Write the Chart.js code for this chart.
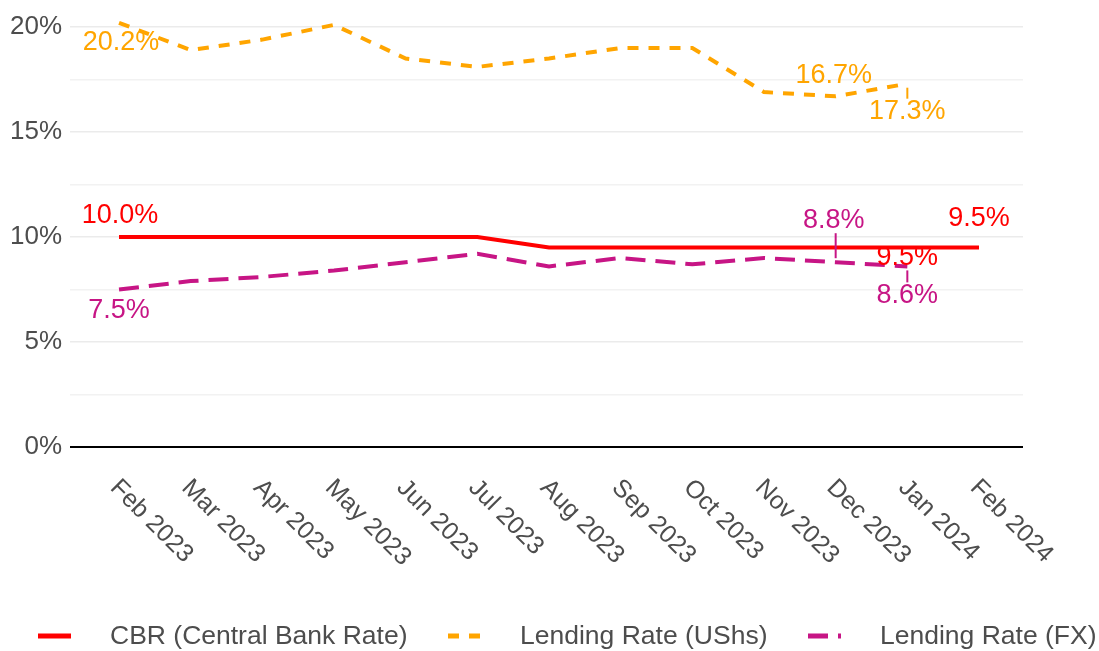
<!DOCTYPE html>
<html>
<head>
<meta charset="utf-8">
<script src="https://cdn.jsdelivr.net/npm/chart.js@4.4.1/dist/chart.umd.min.js"></script>
<style>
  html, body { margin: 0; padding: 0; background: #fff; }
</style>
</head>
<body>
<canvas id="rateChart" width="1099" height="651"></canvas>
<script>
// Months on the x axis
const months = ['Feb 2023', 'Mar 2023', 'Apr 2023', 'May 2023', 'Jun 2023', 'Jul 2023',
  'Aug 2023', 'Sep 2023', 'Oct 2023', 'Nov 2023', 'Dec 2023', 'Jan 2024', 'Feb 2024'];

// Series values (percent)
const cbr = [10.0, 10.0, 10.0, 10.0, 10.0, 10.0, 9.5, 9.5, 9.5, 9.5, 9.5, 9.5, 9.5];
const lendingUshs = [20.2, 18.9, 19.4, 20.1, 18.5, 18.1, 18.5, 19.0, 19.0, 16.9, 16.7, 17.3];
const lendingFx = [7.5, 7.9, 8.1, 8.4, 8.8, 9.2, 8.6, 9.0, 8.7, 9.0, 8.8, 8.6];

const seriesNames = ['CBR (Central Bank Rate)', 'Lending Rate (UShs)', 'Lending Rate (FX)'];
const yTicks = [0, 5, 10, 15, 20];

const FONT = '"Liberation Sans", Arial, sans-serif';
const TEXT_GREY = '#4D4D4D';

function toPoints(values) {
  return values.map((v, i) => ({ x: i, y: v }));
}

// which points get a value label: [dataset, index, dx, dy, connector]
const valueLabels = [
  [1, 0, 2, 20, false],
  [0, 0, 1, -21, false],
  [2, 0, 0, 21, false],
  [1, 10, -2, -21, false],
  [1, 11, 0, 28, true],
  [2, 10, -2, -42, true],
  [2, 11, 0, 29, true],
  [0, 11, 0, 10, false],
  [0, 12, 0, -29, false]
];

const valueLabelPlugin = {
  id: 'valueLabels',
  afterDatasetsDraw(chart) {
    const ctx = chart.ctx;
    ctx.save();
    ctx.font = '27px ' + FONT;
    ctx.textAlign = 'center';
    ctx.textBaseline = 'middle';
    valueLabels.forEach(([ds, idx, dx, dy, seg]) => {
      const dataset = chart.data.datasets[ds];
      const pt = chart.getDatasetMeta(ds).data[idx];
      const color = dataset.borderColor;
      if (seg) {
        ctx.strokeStyle = color;
        ctx.lineWidth = 2;
        ctx.beginPath();
        const dir = dy > 0 ? 1 : -1;
        ctx.moveTo(pt.x, pt.y + dir * 4);
        ctx.lineTo(pt.x, pt.y + dy - dir * 13);
        ctx.stroke();
      }
      ctx.fillStyle = color;
      ctx.fillText(dataset.data[idx].y.toFixed(1) + '%', pt.x + dx, pt.y + dy);
    });
    ctx.restore();
  }
};

const xLabelPlugin = {
  id: 'xLabels',
  afterDraw(chart) {
    const ctx = chart.ctx;
    const xs = chart.scales.x;
    ctx.save();
    ctx.font = '25px ' + FONT;
    ctx.fillStyle = TEXT_GREY;
    ctx.textAlign = 'left';
    ctx.textBaseline = 'middle';
    months.forEach((m, i) => {
      const px = xs.getPixelForValue(i);
      ctx.save();
      ctx.translate(px - 5, 484);
      ctx.rotate(Math.PI / 4);
      ctx.fillText(m, 0, 0);
      ctx.restore();
    });
    ctx.restore();
  }
};

const legendPlugin = {
  id: 'bottomLegend',
  afterDraw(chart) {
    const ctx = chart.ctx;
    const keyX = [38, 448, 808];
    const textX = [110, 520, 880];
    const y = 636;
    ctx.save();
    chart.data.datasets.forEach((ds, i) => {
      ctx.strokeStyle = ds.borderColor;
      ctx.lineWidth = 5;
      ctx.lineCap = 'butt';
      ctx.setLineDash(ds.borderDash || []);
      ctx.beginPath();
      ctx.moveTo(keyX[i], y);
      ctx.lineTo(keyX[i] + 33, y);
      ctx.stroke();
      ctx.setLineDash([]);
      ctx.font = '26.5px ' + FONT;
      ctx.fillStyle = TEXT_GREY;
      ctx.textAlign = 'left';
      ctx.textBaseline = 'middle';
      ctx.fillText(ds.label, textX[i], y + 1);
    });
    ctx.restore();
  }
};

new Chart(document.getElementById('rateChart'), {
  type: 'line',
  data: {
    datasets: [
      {
        label: seriesNames[0],
        data: toPoints(cbr),
        borderColor: '#FF0000',
        borderWidth: 4,
        borderDash: [],
        pointRadius: 0,
        tension: 0
      },
      {
        label: seriesNames[1],
        data: toPoints(lendingUshs),
        borderColor: '#FFA500',
        borderWidth: 4,
        borderDash: [11, 10],
        pointRadius: 0,
        tension: 0
      },
      {
        label: seriesNames[2],
        data: toPoints(lendingFx),
        borderColor: '#C71585',
        borderWidth: 4,
        borderDash: [20, 10],
        pointRadius: 0,
        tension: 0
      }
    ]
  },
  options: {
    responsive: false,
    animation: false,
    layout: { padding: { top: 6, right: 76, bottom: 191.4, left: 0 } },
    plugins: {
      legend: { display: false },
      tooltip: { enabled: false }
    },
    scales: {
      x: {
        type: 'linear',
        min: -0.684,
        max: 12.614,
        display: false
      },
      y: {
        min: -0.6,
        max: 21,
        border: { display: false },
        afterFit: s => { s.width = 70; s.paddingTop = 0; s.paddingBottom = 0; },
        grid: {
          drawTicks: false,
          color: c => c.tick.value === 0 ? '#000000' : (c.tick.value % 5 === 0 ? '#EBEBEB' : '#F2F2F2'),
          lineWidth: c => c.tick.value === 0 ? 2 : 1.5
        },
        ticks: {
          stepSize: 2.5,
          includeBounds: false,
          padding: 8,
          color: TEXT_GREY,
          font: { family: FONT, size: 26 },
          callback: v => yTicks.includes(v) ? v + '%' : ''
        }
      }
    }
  },
  plugins: [valueLabelPlugin, xLabelPlugin, legendPlugin]
});
</script>
</body>
</html>
